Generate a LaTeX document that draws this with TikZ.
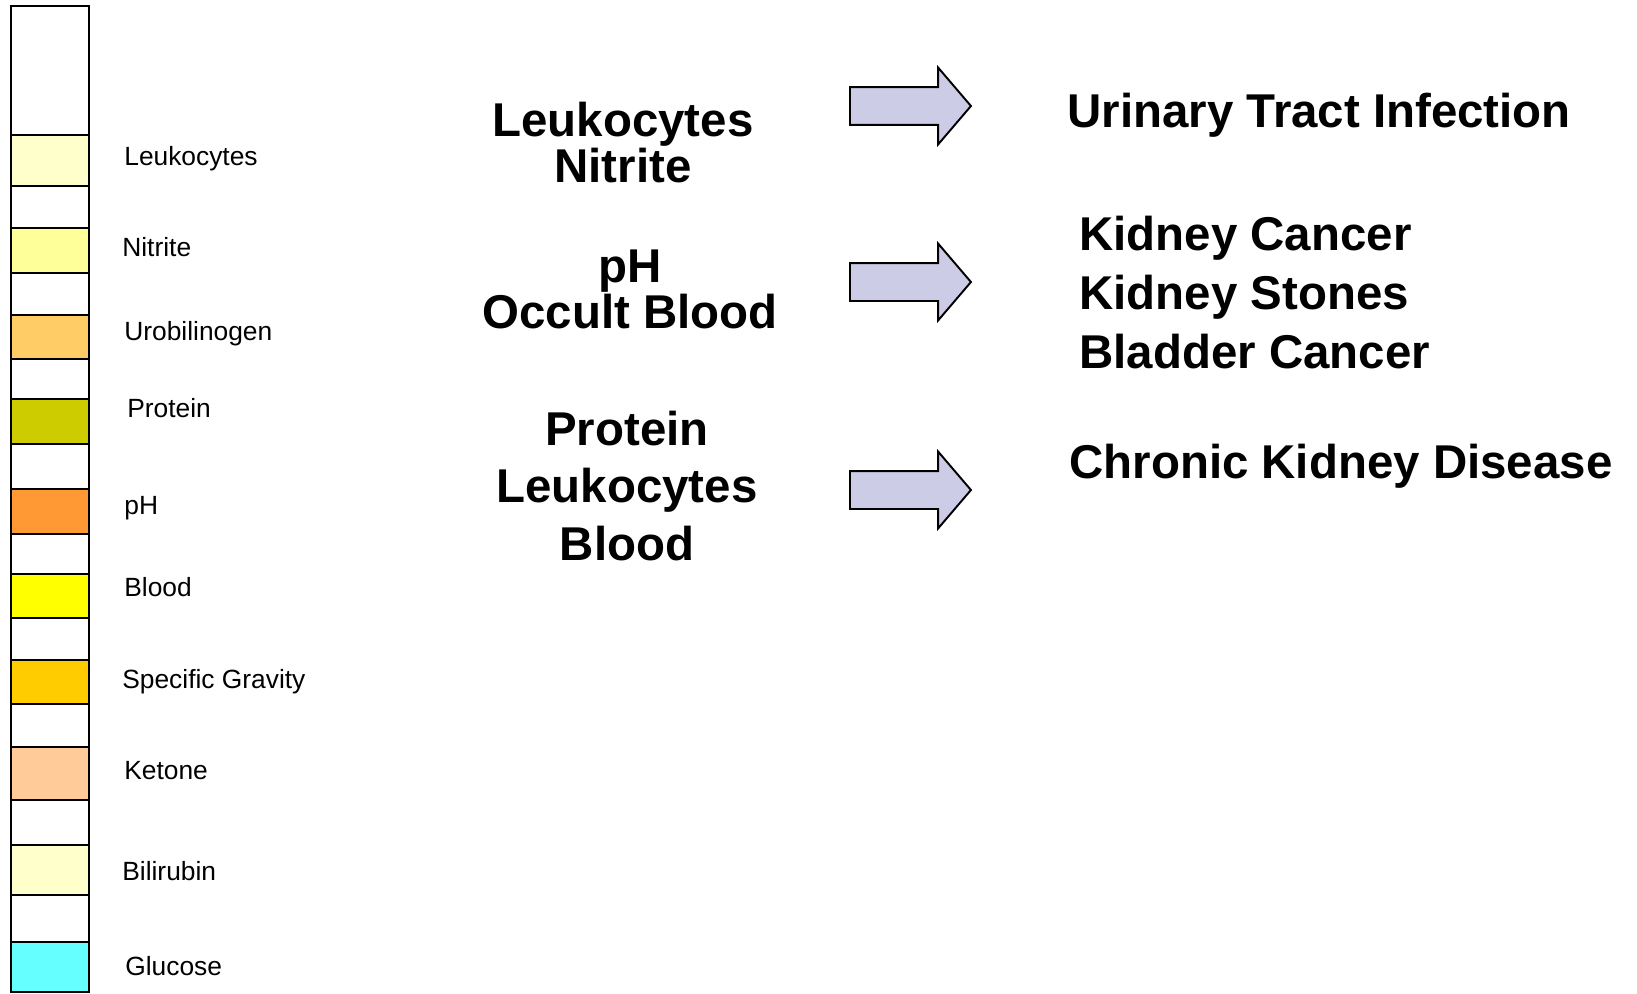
\documentclass[tikz,border=0pt]{standalone}
\usepackage{fontspec}
\setmainfont{Liberation Sans}
\usetikzlibrary{shapes.arrows,positioning}
\definecolor{padleu}{HTML}{FFFFCC}
\definecolor{padnit}{HTML}{FFFF99}
\definecolor{paduro}{HTML}{FFCC66}
\definecolor{padpro}{HTML}{CCCC00}
\definecolor{padph}{HTML}{FF9933}
\definecolor{padblo}{HTML}{FFFF00}
\definecolor{padsg}{HTML}{FFCC00}
\definecolor{padket}{HTML}{FFCC99}
\definecolor{padbil}{HTML}{FFFFCC}
\definecolor{padglu}{HTML}{66FFFF}
\definecolor{arrfill}{HTML}{CCCCE6}

\begin{document}
\begin{tikzpicture}[x=0.02cm,y=-0.02cm,
  pad/.style={draw=black,line width=1.1pt,minimum width=1.56cm,inner sep=0pt},
  lbl/.style={anchor=base west,inner sep=0pt,font=\fontsize{15}{18}\selectfont},
  test/.style={anchor=base,inner sep=0pt,align=center,font=\bfseries},
  dx/.style={anchor=base west,inner sep=0pt,align=left,font=\bfseries},
  fat/.style={single arrow,draw=black,line width=1.1pt,fill=arrfill,
              single arrow head extend=0.39cm,single arrow tip angle=99,
              single arrow head indent=0pt,inner xsep=0pt,inner ysep=0.36cm,
              minimum height=2.42cm,anchor=tail}
]
\useasboundingbox (0,0) rectangle (1637,994);
% dipstick
\node[pad,fill=white,minimum height=19.72cm] (strip) at (50,499) {};
\node[pad,fill=padleu,minimum height=1.02cm] (pleu) at (50,160.5) {};
\node[pad,fill=padnit,minimum height=0.90cm] (pnit) at (50,250.5) {};
\node[pad,fill=paduro,minimum height=0.88cm] (puro) at (50,337) {};
\node[pad,fill=padpro,minimum height=0.90cm] (ppro) at (50,421.5) {};
\node[pad,fill=padph,minimum height=0.90cm] (pph) at (50,511.5) {};
\node[pad,fill=padblo,minimum height=0.88cm] (pblo) at (50,596) {};
\node[pad,fill=padsg,minimum height=0.88cm] (psg) at (50,682) {};
\node[pad,fill=padket,minimum height=1.06cm] (pket) at (50,773.5) {};
\node[pad,fill=padbil,minimum height=1.00cm] (pbil) at (50,870) {};
\node[pad,fill=padglu,minimum height=1.00cm] (pglu) at (50,967) {};
% pad names
\node[lbl] (lleu) at (124,165) {Leukocytes};
\node[lbl] (lnit) at (122,256) {Nitrite};
\node[lbl] (luro) at (124,340) {Urobilinogen};
\node[lbl] (lpro) at (127,417) {Protein};
\node[lbl] (lph) at (124,514) {pH};
\node[lbl] (lblo) at (124,596) {Blood};
\node[lbl] (lsg) at (122,688) {Specific Gravity};
\node[lbl] (lket) at (124,779) {Ketone};
\node[lbl] (lbil) at (122,880) {Bilirubin};
\node[lbl] (lglu) at (125,975) {Glucose};
% tests
\node[test,font=\fontsize{27}{24}\selectfont\bfseries] (t1) at (623,182) {Leukocytes\\Nitrite};
\node[test,font=\fontsize{27}{25}\selectfont\bfseries] (t2) at (630,328) {pH\\Occult Blood};
\node[test,font=\fontsize{27}{32.5}\selectfont\bfseries] (t3) at (627,560) {Protein\\Leukocytes\\Blood};
% arrows
\node[fat] (a1) at (849,106) {};
\node[fat] (a2) at (849,282) {};
\node[fat] (a3) at (849,490) {};
% diagnoses
\node[dx,font=\fontsize{27}{30}\selectfont\bfseries] (d1) at (1067,127) {Urinary Tract Infection};
\node[dx,font=\fontsize{27}{33.3}\selectfont\bfseries] (d2) at (1079,368) {Kidney Cancer\\Kidney Stones\\Bladder Cancer};
\node[dx,font=\fontsize{27}{30}\selectfont\bfseries] (d3) at (1069,478) {Chronic Kidney Disease};
\end{tikzpicture}
\end{document}
